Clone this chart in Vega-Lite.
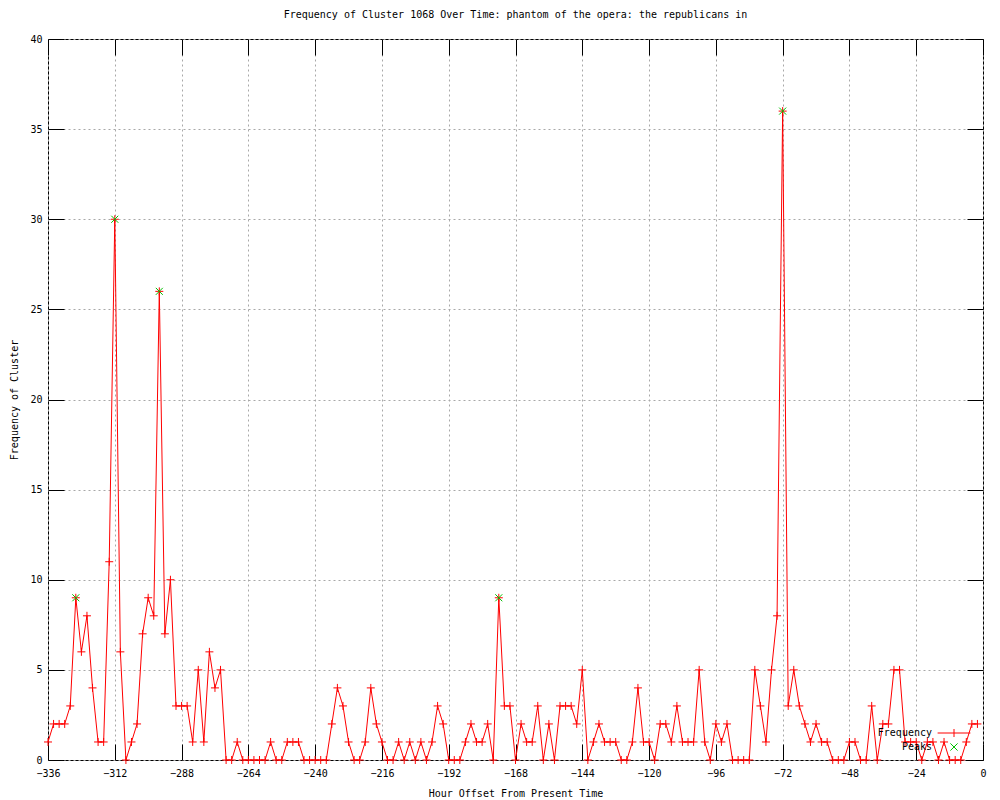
{
  "$schema": "https://vega.github.io/schema/vega-lite/v6.json",
  "width": 935,
  "height": 721,
  "autosize": {"type": "none"},
  "padding": {"left": 48, "top": 39, "right": 17, "bottom": 40},
  "background": "white",
  "title": {
    "text": "Frequency of Cluster 1068 Over Time: phantom of the opera: the republicans in",
    "font": "DejaVu Sans Mono",
    "fontSize": 10,
    "fontWeight": "normal",
    "color": "black",
    "anchor": "middle",
    "offset": 14
  },
  "config": {
    "view": {"stroke": "black", "strokeWidth": 1},
    "font": "DejaVu Sans Mono",
    "axis": {
      "labelFont": "DejaVu Sans Mono",
      "labelFontSize": 10,
      "labelColor": "black",
      "titleFont": "DejaVu Sans Mono",
      "titleFontSize": 10,
      "titleFontWeight": "normal",
      "titleColor": "black",
      "tickColor": "black",
      "tickWidth": 1,
      "tickSize": -16,
      "domain": false,
      "gridColor": "#a8a8a8",
      "gridDash": [2, 3],
      "gridWidth": 1,
      "gridOpacity": 1,
      "labelFlush": false,
      "labelOverlap": false
    }
  },
  "datasets": {
    "series": [
      {"hour": -336, "count": 1}, {"hour": -334, "count": 2}, {"hour": -332, "count": 2}, {"hour": -330, "count": 2},
      {"hour": -328, "count": 3}, {"hour": -326, "count": 9}, {"hour": -324, "count": 6}, {"hour": -322, "count": 8},
      {"hour": -320, "count": 4}, {"hour": -318, "count": 1}, {"hour": -316, "count": 1}, {"hour": -314, "count": 11},
      {"hour": -312, "count": 30}, {"hour": -310, "count": 6}, {"hour": -308, "count": 0}, {"hour": -306, "count": 1},
      {"hour": -304, "count": 2}, {"hour": -302, "count": 7}, {"hour": -300, "count": 9}, {"hour": -298, "count": 8},
      {"hour": -296, "count": 26}, {"hour": -294, "count": 7}, {"hour": -292, "count": 10}, {"hour": -290, "count": 3},
      {"hour": -288, "count": 3}, {"hour": -286, "count": 3}, {"hour": -284, "count": 1}, {"hour": -282, "count": 5},
      {"hour": -280, "count": 1}, {"hour": -278, "count": 6}, {"hour": -276, "count": 4}, {"hour": -274, "count": 5},
      {"hour": -272, "count": 0}, {"hour": -270, "count": 0}, {"hour": -268, "count": 1}, {"hour": -266, "count": 0},
      {"hour": -264, "count": 0}, {"hour": -262, "count": 0}, {"hour": -260, "count": 0}, {"hour": -258, "count": 0},
      {"hour": -256, "count": 1}, {"hour": -254, "count": 0}, {"hour": -252, "count": 0}, {"hour": -250, "count": 1},
      {"hour": -248, "count": 1}, {"hour": -246, "count": 1}, {"hour": -244, "count": 0}, {"hour": -242, "count": 0},
      {"hour": -240, "count": 0}, {"hour": -238, "count": 0}, {"hour": -236, "count": 0}, {"hour": -234, "count": 2},
      {"hour": -232, "count": 4}, {"hour": -230, "count": 3}, {"hour": -228, "count": 1}, {"hour": -226, "count": 0},
      {"hour": -224, "count": 0}, {"hour": -222, "count": 1}, {"hour": -220, "count": 4}, {"hour": -218, "count": 2},
      {"hour": -216, "count": 1}, {"hour": -214, "count": 0}, {"hour": -212, "count": 0}, {"hour": -210, "count": 1},
      {"hour": -208, "count": 0}, {"hour": -206, "count": 1}, {"hour": -204, "count": 0}, {"hour": -202, "count": 1},
      {"hour": -200, "count": 0}, {"hour": -198, "count": 1}, {"hour": -196, "count": 3}, {"hour": -194, "count": 2},
      {"hour": -192, "count": 0}, {"hour": -190, "count": 0}, {"hour": -188, "count": 0}, {"hour": -186, "count": 1},
      {"hour": -184, "count": 2}, {"hour": -182, "count": 1}, {"hour": -180, "count": 1}, {"hour": -178, "count": 2},
      {"hour": -176, "count": 0}, {"hour": -174, "count": 9}, {"hour": -172, "count": 3}, {"hour": -170, "count": 3},
      {"hour": -168, "count": 0}, {"hour": -166, "count": 2}, {"hour": -164, "count": 1}, {"hour": -162, "count": 1},
      {"hour": -160, "count": 3}, {"hour": -158, "count": 0}, {"hour": -156, "count": 2}, {"hour": -154, "count": 0},
      {"hour": -152, "count": 3}, {"hour": -150, "count": 3}, {"hour": -148, "count": 3}, {"hour": -146, "count": 2},
      {"hour": -144, "count": 5}, {"hour": -142, "count": 0}, {"hour": -140, "count": 1}, {"hour": -138, "count": 2},
      {"hour": -136, "count": 1}, {"hour": -134, "count": 1}, {"hour": -132, "count": 1}, {"hour": -130, "count": 0},
      {"hour": -128, "count": 0}, {"hour": -126, "count": 1}, {"hour": -124, "count": 4}, {"hour": -122, "count": 1},
      {"hour": -120, "count": 1}, {"hour": -118, "count": 0}, {"hour": -116, "count": 2}, {"hour": -114, "count": 2},
      {"hour": -112, "count": 1}, {"hour": -110, "count": 3}, {"hour": -108, "count": 1}, {"hour": -106, "count": 1},
      {"hour": -104, "count": 1}, {"hour": -102, "count": 5}, {"hour": -100, "count": 1}, {"hour": -98, "count": 0},
      {"hour": -96, "count": 2}, {"hour": -94, "count": 1}, {"hour": -92, "count": 2}, {"hour": -90, "count": 0},
      {"hour": -88, "count": 0}, {"hour": -86, "count": 0}, {"hour": -84, "count": 0}, {"hour": -82, "count": 5},
      {"hour": -80, "count": 3}, {"hour": -78, "count": 1}, {"hour": -76, "count": 5}, {"hour": -74, "count": 8},
      {"hour": -72, "count": 36}, {"hour": -70, "count": 3}, {"hour": -68, "count": 5}, {"hour": -66, "count": 3},
      {"hour": -64, "count": 2}, {"hour": -62, "count": 1}, {"hour": -60, "count": 2}, {"hour": -58, "count": 1},
      {"hour": -56, "count": 1}, {"hour": -54, "count": 0}, {"hour": -52, "count": 0}, {"hour": -50, "count": 0},
      {"hour": -48, "count": 1}, {"hour": -46, "count": 1}, {"hour": -44, "count": 0}, {"hour": -42, "count": 0},
      {"hour": -40, "count": 3}, {"hour": -38, "count": 0}, {"hour": -36, "count": 2}, {"hour": -34, "count": 2},
      {"hour": -32, "count": 5}, {"hour": -30, "count": 5}, {"hour": -28, "count": 1}, {"hour": -26, "count": 1},
      {"hour": -24, "count": 1}, {"hour": -22, "count": 0}, {"hour": -20, "count": 1}, {"hour": -18, "count": 1},
      {"hour": -16, "count": 0}, {"hour": -14, "count": 1}, {"hour": -12, "count": 0}, {"hour": -10, "count": 0},
      {"hour": -8, "count": 0}, {"hour": -6, "count": 1}, {"hour": -4, "count": 2}, {"hour": -2, "count": 2}
    ],
    "peaks": [
      {"hour": -326, "count": 9},
      {"hour": -312, "count": 30},
      {"hour": -296, "count": 26},
      {"hour": -174, "count": 9},
      {"hour": -72, "count": 36}
    ]
  },
  "layer": [
    {
      "data": {"name": "series"},
      "mark": {"type": "line", "strokeWidth": 1, "interpolate": "linear"},
      "encoding": {
        "x": {
          "field": "hour", "type": "quantitative",
          "scale": {"domain": [-336, 0], "nice": false, "zero": false},
          "axis": {
            "title": "Hour Offset From Present Time",
            "values": [-336, -312, -288, -264, -240, -216, -192, -168, -144, -120, -96, -72, -48, -24, 0],
            "grid": true,
            "labelPadding": 24,
            "titlePadding": 10
          }
        },
        "y": {
          "field": "count", "type": "quantitative",
          "scale": {"domain": [0, 40], "nice": false},
          "axis": {
            "title": "Frequency of Cluster",
            "values": [0, 5, 10, 15, 20, 25, 30, 35, 40],
            "grid": true,
            "labelPadding": 22,
            "titlePadding": 10
          }
        },
        "color": {
          "datum": "Frequency",
          "scale": {"domain": ["Frequency", "Peaks"], "range": ["#ff0000", "#00c000"]},
          "legend": {
            "orient": "none",
            "legendX": 901,
            "legendY": 689,
            "title": null,
            "padding": 0,
            "labelAlign": "right",
            "labelOffset": -27,
            "labelFont": "DejaVu Sans Mono",
            "labelFontSize": 10,
            "labelColor": "black",
            "symbolSize": 64,
            "rowPadding": 2,
            "encode": {
              "symbols": {
                "update": {
                  "shape": {"signal": "datum.value === 'Frequency' ? 'M-4.1,0H4.1M0,-1V1' : 'M-0.9,-0.9L0.9,0.9M-0.9,0.9L0.9,-0.9'"},
                  "stroke": {"signal": "datum.value === 'Frequency' ? '#ff0000' : '#00c000'"},
                  "fill": {"value": "transparent"},
                  "strokeWidth": {"value": 1},
                  "opacity": {"value": 1}
                }
              }
            }
          }
        }
      }
    },
    {
      "data": {"name": "series"},
      "mark": {"type": "point", "shape": "M-1,0H1M0,-1V1", "size": 64, "filled": false, "strokeWidth": 1, "opacity": 1},
      "encoding": {
        "x": {"field": "hour", "type": "quantitative", "axis": null},
        "y": {"field": "count", "type": "quantitative", "axis": null},
        "color": {"datum": "Frequency"}
      }
    },
    {
      "data": {"name": "peaks"},
      "mark": {"type": "point", "shape": "M-1,-1L1,1M-1,1L1,-1", "size": 49, "filled": false, "strokeWidth": 1, "opacity": 1},
      "encoding": {
        "x": {
          "field": "hour", "type": "quantitative",
          "axis": {
            "orient": "top", "title": null, "labels": false, "grid": false,
            "values": [-336, -312, -288, -264, -240, -216, -192, -168, -144, -120, -96, -72, -48, -24, 0]
          }
        },
        "y": {
          "field": "count", "type": "quantitative",
          "axis": {
            "orient": "right", "title": null, "labels": false, "grid": false,
            "values": [0, 5, 10, 15, 20, 25, 30, 35, 40]
          }
        },
        "color": {"datum": "Peaks"}
      }
    }
  ],
  "resolve": {"axis": {"x": "independent", "y": "independent"}}
}
